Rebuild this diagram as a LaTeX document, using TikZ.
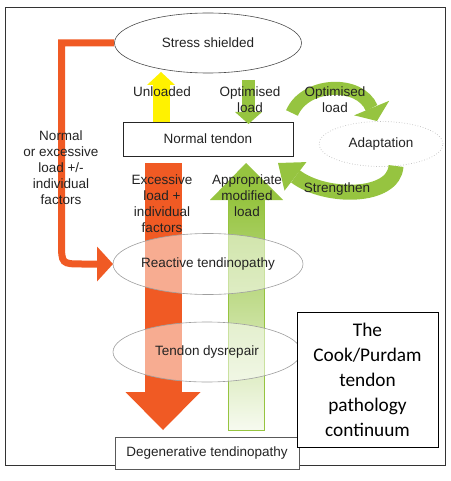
\documentclass[tikz,border=0pt]{standalone}
\usepackage{fontspec}
\setmainfont{Liberation Sans}
\newfontfamily\cookfont{Carlito}
\usetikzlibrary{shapes.geometric,arrows.meta}
\definecolor{tor}{RGB}{240,90,36}
\definecolor{tgr}{RGB}{150,196,64}
\definecolor{tye}{RGB}{255,242,0}
\definecolor{ttx}{RGB}{35,35,35}
\begin{document}
\begin{tikzpicture}[x=1pt,y=-1pt,
  lbl/.style={font=\fontsize{13.5}{16}\selectfont, text=ttx, align=center, inner sep=0pt},
  ellnode/.style={ellipse, draw=gray!75, line width=0.6pt, inner sep=0pt,
    font=\fontsize{13.5}{16}\selectfont, text=ttx},
  boxnode/.style={rectangle, draw=black!85, line width=0.7pt, fill=white, inner sep=0pt,
    font=\fontsize{13.5}{16}\selectfont, text=ttx},
  garc/.style={draw=tgr, line width=13pt},
]
\useasboundingbox (0,0) rectangle (450,481);
% frame
\draw[line width=1pt, black!80] (5,8) rectangle (445,465);

% main nodes (shapes)
\node[ellnode, draw=black!70, fill=white, minimum width=187pt, minimum height=60pt] (stress) at (208,43) {Stress shielded};
\node[boxnode, minimum width=170pt, minimum height=34pt] (normal) at (208,139) {Normal tendon};
\node[ellipse, draw=gray!50, dotted, line width=0.7pt, minimum width=124pt, minimum height=45pt,
  inner sep=0pt, font=\fontsize{13.5}{16}\selectfont, text=ttx] (adapt) at (381,144) {Adaptation};

% coordinates for connector ends
\coordinate (yb) at (161,122);
\coordinate (yt) at (161,72);
\coordinate (gt) at (248.5,80);
\coordinate (gb) at (248.5,124);
\coordinate (oa1) at (292,113);
\coordinate (oa2) at (377,121);
\coordinate (sa1) at (396,166);
\coordinate (sa2) at (278,163);
\coordinate (bo1) at (163,163);
\coordinate (bo2) at (163,430);
\coordinate (lcorner) at (61.5,43);

% small straight arrows
\draw[tye, line width=17pt, -{Triangle[width=28pt,length=13pt,line width=0pt]}] (yb) -- (yt);
\draw[tgr, line width=13pt, -{Triangle[width=27pt,length=12pt,line width=0pt]}] (gt) -- (gb);

% curved arrows
\draw[garc, -{Triangle[width=38pt,length=14pt,line width=0pt]}] (oa1) .. controls (305,82) and (360,80) .. (oa2);
\draw[garc, line width=15pt, -{Triangle[width=36pt,length=22pt,line width=0pt]}] (sa1) .. controls (394,199) and (325,199) .. (sa2);

% big orange arrow
\draw[tor, line width=37pt, -{Triangle[width=75pt,length=38pt,line width=0pt]}] (bo1) -- (bo2);

% big green arrow
\fill[tgr] (246,163) -- (283,200) -- (210,200) -- cycle;
\shade[top color=tgr, bottom color=tgr!8] (228,199.5) rectangle (264,430);
\draw[tgr, line width=0.8pt] (228,200) -- (228,430) -- (264,430) -- (264,200);

% orange L connector
\draw[tor, line width=7pt, -{Triangle[width=35pt,length=16pt,line width=0pt]}]
  (stress.west) -- (lcorner) -- (61.5,242) .. controls (61.5,264) .. (83,264) -- (113,264);

% ellipses on the path
\node[ellnode, fill=white, fill opacity=0.5, text opacity=1, minimum width=190pt, minimum height=61pt] (reactive) at (208,264) {Reactive tendinopathy};
\node[ellnode, fill=white, fill opacity=0.5, text opacity=1, minimum width=188pt, minimum height=60pt] (dysrepair) at (207,352) {Tendon dysrepair};
\node[boxnode, draw=black!65, minimum width=184pt, minimum height=32pt] (degen) at (207,453) {Degenerative tendinopathy};

% labels
\node[lbl] (lunl) at (162,92) {Unloaded};
\node[lbl] (lopt1) at (250,100) {Optimised\\load};
\node[lbl] (lopt2) at (335,100) {Optimised\\load};
\node[lbl] (lstr) at (337,189) {Strengthen};
\node[lbl] (lnorm) at (61,167.5) {Normal\\or excessive\\load +/-\\individual\\factors};
\node[lbl] (lexc) at (162,204) {Excessive\\load +\\individual\\factors};
\node[lbl] (lapp) at (247,196) {Appropriate\\modified\\load};

% title box
\node[rectangle, draw=black, line width=0.9pt, fill=white, minimum width=141pt, minimum height=135pt,
  align=center, font=\cookfont\fontsize{19.3}{25}\selectfont, text=black] (cook) at (367.5,379.5)
  {The\\Cook/Purdam\\tendon\\pathology\\continuum};
\end{tikzpicture}
\end{document}
